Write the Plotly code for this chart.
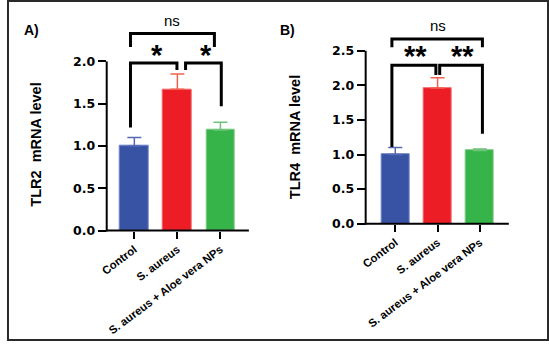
import plotly.graph_objects as go

# ---- data -------------------------------------------------------------
categories = ["Control", "S. aureus", "S. aureus + Aloe vera NPs"]

tlr2_mean = [1.00, 1.67, 1.19]
tlr2_err = [0.10, 0.18, 0.09]

tlr4_mean = [1.00, 1.96, 1.06]
tlr4_err = [0.10, 0.15, 0.02]

tlr2_ticks = [0.0, 0.5, 1.0, 1.5, 2.0]
tlr4_ticks = [0.0, 0.5, 1.0, 1.5, 2.0, 2.5]

bar_fill = ["#3953A4", "#ED1D25", "#36B44A"]
bar_edge = ["#7385C6", "#F36A6E", "#7ECB86"]
err_color = ["#5569B3", "#F0624E", "#6FC37A"]

# significance brackets: (left x, right x, left leg bottom, right leg bottom, top)
tlr2_brackets = [
    (-0.09, 0.99, 1.22, 1.90, 1.98),
    (1.19, 2.02, 1.90, 1.47, 1.98),
    (-0.09, 1.86, 2.17, 2.17, 2.33),
]
tlr2_labels = [(0.52, 2.15, "*"), (1.67, 2.15, "*"), (0.88, 2.48, "ns")]

tlr4_brackets = [
    (-0.08, 0.96, 1.11, 2.15, 2.29),
    (1.05, 2.06, 2.15, 1.30, 2.29),
    (-0.08, 2.06, 2.55, 2.55, 2.67),
]
tlr4_labels = [(0.48, 2.51, "**"), (1.59, 2.51, "**"), (1.01, 2.86, "ns")]

W, H = 549, 348
TICK_FONT = dict(family="DejaVu Sans", size=12.5, color="black", weight=700)
CAT_FONT = dict(family="Liberation Sans", size=11.3, color="black", weight=700)

fig = go.Figure()

panels = [
    dict(ax="", means=tlr2_mean, errs=tlr2_err, ticks=tlr2_ticks,
         xdom=[101 / W, 245 / W], xr=[-0.642, 2.661],
         ydom=[1 - 235.3 / H, 1 - 10.9 / H], yr=[0, 2.6],
         brackets=tlr2_brackets, labels=tlr2_labels,
         title="TLR2\u00a0 mRNA level", tx=29, ty=148,
         letter="A)", lx=15),
    dict(ax="2", means=tlr4_mean, errs=tlr4_err, ticks=tlr4_ticks,
         xdom=[363.3 / W, 508.3 / W], xr=[-0.700, 2.684],
         ydom=[1 - 228.3 / H, 1 - 16.5 / H], yr=[0, 3.0],
         brackets=tlr4_brackets, labels=tlr4_labels,
         title="TLR4\u00a0 mRNA level", tx=291.7, ty=140,
         letter="B)", lx=274),
]

shapes = []
annotations = []

for p in panels:
    xa, ya = "x" + p["ax"], "y" + p["ax"]
    for i, cat in enumerate(categories):
        fig.add_trace(go.Bar(
            x=[i], y=[p["means"][i]], width=0.66,
            marker=dict(color=bar_fill[i], line=dict(color=bar_edge[i], width=1)),
            error_y=dict(type="data", symmetric=False, array=[p["errs"][i]],
                         arrayminus=[0], color=err_color[i], thickness=1.5, width=7),
            xaxis=xa, yaxis=ya, showlegend=False, name=cat,
        ))

    fig.update_layout({
        "xaxis" + p["ax"]: dict(
            domain=p["xdom"], range=p["xr"], anchor=ya,
            tickmode="array", tickvals=[0, 1, 2], ticktext=categories,
            tickangle=-37, tickfont=CAT_FONT, ticks="outside", ticklen=7,
            tickwidth=2, tickcolor="black", showline=False, showgrid=False,
            zeroline=False, fixedrange=True),
        "yaxis" + p["ax"]: dict(
            domain=p["ydom"], range=p["yr"], anchor=xa,
            tickmode="array", tickvals=p["ticks"],
            ticktext=[f"{t:.1f}" for t in p["ticks"]],
            tickfont=TICK_FONT, ticks="outside", ticklen=8, tickwidth=2,
            tickcolor="black", showline=False, showgrid=False, zeroline=False,
            fixedrange=True),
    })

    # axis lines: y line stops at the top tick
    top_frac = p["ticks"][-1] / p["yr"][1]
    shapes.append(dict(type="line", xref=xa + " domain", yref=ya + " domain",
                       x0=0, x1=0, y0=-0.004, y1=top_frac,
                       line=dict(color="black", width=2)))
    shapes.append(dict(type="line", xref=xa + " domain", yref=ya + " domain",
                       x0=-0.005, x1=1, y0=0, y1=0,
                       line=dict(color="black", width=2)))

    # significance brackets
    for (x0, x1, yl, yr_, top) in p["brackets"]:
        shapes.append(dict(type="path", xref=xa, yref=ya,
                           path=f"M {x0},{yl} L {x0},{top} L {x1},{top} L {x1},{yr_}",
                           line=dict(color="black", width=3)))
    for (x, y, txt) in p["labels"]:
        if txt == "ns":
            annotations.append(dict(x=x, y=y, xref=xa, yref=ya, text=txt,
                                    showarrow=False, xanchor="center", yanchor="middle",
                                    font=dict(family="Liberation Sans", size=15, color="black")))
        else:
            annotations.append(dict(x=x, y=y, xref=xa, yref=ya, text=txt,
                                    showarrow=False, xanchor="center", yanchor="middle",
                                    yshift=-6,
                                    font=dict(family="Liberation Sans", size=29,
                                              color="black", weight=700)))

    # axis title and panel letter
    annotations.append(dict(x=p["tx"] / W, y=1 - p["ty"] / H, xref="paper", yref="paper",
                            text=p["title"], textangle=-90, showarrow=False,
                            xanchor="center", yanchor="middle",
                            font=dict(family="Liberation Sans", size=14.5, color="black",
                                      weight=700)))
    annotations.append(dict(x=p["lx"] / W, y=1 - 31 / H, xref="paper", yref="paper",
                            text=p["letter"], showarrow=False,
                            xanchor="left", yanchor="middle",
                            font=dict(family="Liberation Sans", size=14, color="black",
                                      weight=700)))

# frame around the whole figure
shapes.append(dict(type="rect", xref="paper", yref="paper",
                   x0=1 / W, x1=1 - 1 / W, y0=1 / H, y1=1 - 1 / H,
                   line=dict(color="#2a2a2a", width=2)))

fig.update_layout(
    width=W, height=H, margin=dict(l=0, r=0, t=0, b=0),
    paper_bgcolor="white", plot_bgcolor="white",
    shapes=shapes, annotations=annotations, bargap=0,
)

fig.write_html("out.html", config={"displayModeBar": False})
